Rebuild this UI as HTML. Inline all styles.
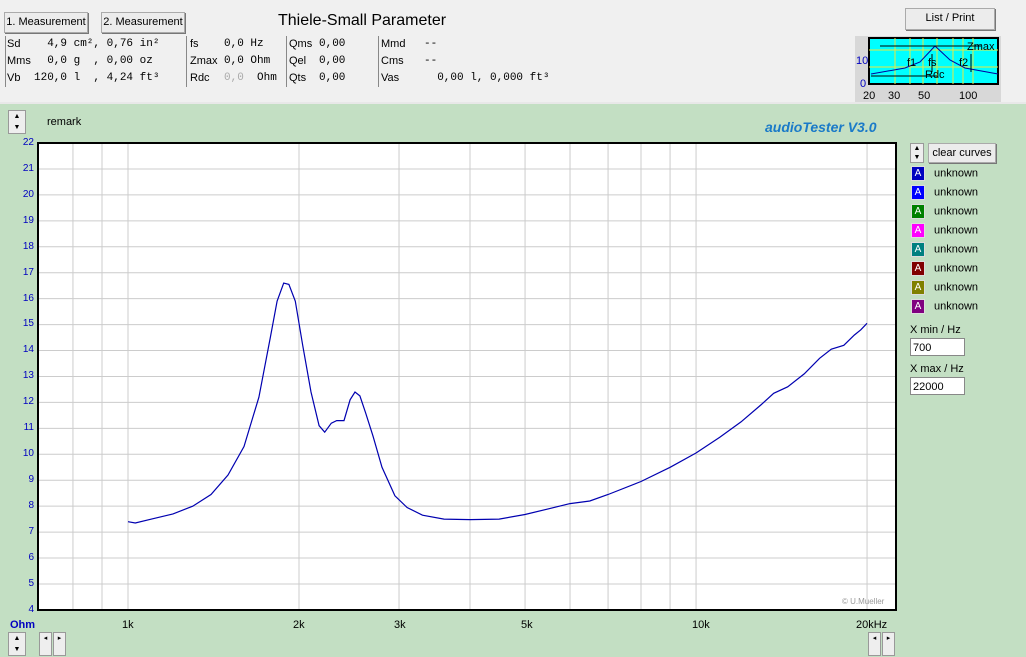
<!DOCTYPE html>
<html><head><style>
body{margin:0;width:1026px;height:657px;overflow:hidden;background:#c3dfc3;font-family:"Liberation Sans",sans-serif;position:relative}
.a{position:absolute}
.top{left:0;top:0;width:1026px;height:102px;background:#f0f0f0;border-bottom:2px solid #e8e8e8}
.btn{position:absolute;background:#ececec;border:1px solid #aaa;box-shadow:1px 1px 0 #777;font-size:11px;text-align:center;line-height:19px}
.m{font-family:"Liberation Mono",monospace;font-size:11px}
.s{font-size:11px}
.sp{position:absolute;width:16px;height:22px;background:#eee;border:1px solid #999;font-size:7px;text-align:center;line-height:11px}
.lg{position:absolute;left:911px;font-size:11px}
.lg span{display:inline-block;width:12px;height:13px;color:#fff;text-align:center;font-size:10px;line-height:13px;margin-right:9px;vertical-align:middle;border:1px solid #ddd}
.yl{position:absolute;left:0;width:34px;text-align:right;font-size:10px;color:#0000c0}
.xl{position:absolute;top:619px;font-size:11px;color:#000}
.inp{position:absolute;left:910px;width:55px;height:18px;background:#fff;border:1px solid #888;font-size:11px;line-height:18px;padding-left:2px;box-sizing:border-box}
</style></head><body>
<div class="a top"></div>
<div class="btn" style="left:4px;top:12px;width:82px;height:19px">1. Measurement</div>
<div class="btn" style="left:101px;top:12px;width:82px;height:19px">2. Measurement</div>
<div class="a" style="left:278px;top:12px;font-size:16px">Thiele-Small Parameter</div>
<div class="a s" style="left:5px;top:36px;line-height:17px;border-left:1px solid #888;padding-left:1px">Sd<br>Mms<br>Vb</div>
<div class="a m" style="left:34px;top:36px;line-height:17px;white-space:pre">  4,9 cm², 0,76 in²
  0,0 g  , 0,00 oz
120,0 l  , 4,24 ft³</div>
<div class="a s" style="left:186px;top:36px;line-height:17px;border-left:1px solid #888;padding-left:3px">fs<br>Zmax<br>Rdc</div>
<div class="a m" style="left:224px;top:36px;line-height:17px;white-space:pre">0,0 Hz
0,0 Ohm
<span style="color:#aaa">0,0</span>  Ohm</div>
<div class="a s" style="left:286px;top:36px;line-height:17px;border-left:1px solid #888;padding-left:2px">Qms<br>Qel<br>Qts</div>
<div class="a m" style="left:319px;top:36px;line-height:17px;white-space:pre">0,00
0,00
0,00</div>
<div class="a s" style="left:378px;top:36px;line-height:17px;border-left:1px solid #888;padding-left:2px">Mmd<br>Cms<br>Vas</div>
<div class="a m" style="left:424px;top:36px;line-height:17px;white-space:pre">--
--
  0,00 l, 0,000 ft³</div>
<div class="btn" style="left:905px;top:8px;width:88px;height:20px">List / Print</div>
<svg class="a" style="left:855px;top:36px" width="146" height="66">
<rect width="146" height="66" fill="#d8d8d8"/>
<rect x="14" y="2" width="129" height="46" fill="#00ffff" stroke="#000" stroke-width="2"/>
<g stroke="#e8e840" stroke-width="1"><line x1="14" y1="14" x2="143" y2="14"/><line x1="14" y1="31" x2="143" y2="31"/><line x1="40" y1="2" x2="40" y2="48"/><line x1="55" y1="2" x2="55" y2="48"/><line x1="68" y1="2" x2="68" y2="48"/><line x1="82" y1="2" x2="82" y2="48"/><line x1="98" y1="2" x2="98" y2="48"/><line x1="108" y1="2" x2="108" y2="48"/><line x1="118" y1="2" x2="118" y2="48"/></g>
<polyline points="16,38 50,32 65,26 80,10 95,24 110,32 143,38" fill="none" stroke="#0000a0"/>
<line x1="25" y1="10" x2="126" y2="10" stroke="#000"/><line x1="16" y1="40" x2="82" y2="40" stroke="#000"/>
<line x1="77" y1="18" x2="77" y2="36" stroke="#000"/><line x1="116" y1="18" x2="116" y2="36" stroke="#000"/>
<g font-size="11" font-family="Liberation Sans"><text x="112" y="14">Zmax</text><text x="52" y="30">f1</text><text x="73" y="30">fs</text><text x="104" y="30">f2</text><text x="70" y="42">Rdc</text>
<text x="1" y="28" fill="#0000c0">10</text><text x="5" y="51" fill="#0000c0">0</text>
<text x="8" y="63">20</text><text x="33" y="63">30</text><text x="63" y="63">50</text><text x="104" y="63">100</text></g>
</svg>
<div class="sp" style="left:8px;top:110px">▲<br>▼</div>
<div class="a s" style="left:47px;top:116px">remark</div>
<div class="a" style="left:765px;top:119px;font-size:14px;font-weight:bold;font-style:italic;color:#1a7ac8">audioTester  V3.0</div>
<svg class="a" style="left:0;top:0" width="1026" height="657" id="g"></svg>
<div class="a" style="left:842px;top:597px;font-size:8px;color:#999">© U.Mueller</div>
<div class="yl" style="top:137px">22</div><div class="yl" style="top:163px">21</div><div class="yl" style="top:189px">20</div><div class="yl" style="top:215px">19</div><div class="yl" style="top:241px">18</div><div class="yl" style="top:267px">17</div><div class="yl" style="top:293px">16</div><div class="yl" style="top:318px">15</div><div class="yl" style="top:344px">14</div><div class="yl" style="top:370px">13</div><div class="yl" style="top:396px">12</div><div class="yl" style="top:422px">11</div><div class="yl" style="top:448px">10</div><div class="yl" style="top:474px">9</div><div class="yl" style="top:500px">8</div><div class="yl" style="top:526px">7</div><div class="yl" style="top:552px">6</div><div class="yl" style="top:578px">5</div><div class="yl" style="top:604px">4</div>
<div class="a" style="left:10px;top:619px;font-size:11px;font-weight:bold;color:#0000c0">Ohm</div>
<div class="xl" style="left:122px">1k</div><div class="xl" style="left:293px">2k</div><div class="xl" style="left:394px">3k</div><div class="xl" style="left:521px">5k</div><div class="xl" style="left:692px">10k</div><div class="xl" style="left:856px">20kHz</div>
<div class="sp" style="left:8px;top:632px">▲<br>▼</div>
<div class="sp" style="left:39px;top:632px;width:11px">◂</div><div class="sp" style="left:53px;top:632px;width:11px">▸</div>
<div class="sp" style="left:868px;top:632px;width:11px">◂</div><div class="sp" style="left:882px;top:632px;width:11px">▸</div>
<div class="sp" style="left:910px;top:143px;width:12px;height:18px;line-height:9px">▲<br>▼</div>
<div class="btn" style="left:928px;top:143px;width:66px;height:18px;line-height:18px;font-size:11px">clear curves</div>
<div class="lg" style="top:166px"><span style="background:#0000c0">A</span>unknown</div>
<div class="lg" style="top:185px"><span style="background:#0000ff">A</span>unknown</div>
<div class="lg" style="top:204px"><span style="background:#008000">A</span>unknown</div>
<div class="lg" style="top:223px"><span style="background:#ff00ff">A</span>unknown</div>
<div class="lg" style="top:242px"><span style="background:#008080">A</span>unknown</div>
<div class="lg" style="top:261px"><span style="background:#800000">A</span>unknown</div>
<div class="lg" style="top:280px"><span style="background:#808000">A</span>unknown</div>
<div class="lg" style="top:299px"><span style="background:#800080">A</span>unknown</div>
<div class="a s" style="left:910px;top:324px">X min / Hz</div>
<div class="inp" style="top:338px">700</div>
<div class="a s" style="left:910px;top:363px">X max / Hz</div>
<div class="inp" style="top:377px">22000</div>
<script>
var X=f=>128+171*Math.log2(f/1000), Y=v=>143+(22-v)*25.94;
var s='<rect x="38" y="143" width="858" height="467" fill="#fff" stroke="#000" stroke-width="2"/>';
[800,900,1000,2000,3000,4000,5000,6000,7000,8000,9000,10000,20000].forEach(f=>{var x=X(f);s+='<line x1="'+x+'" y1="144" x2="'+x+'" y2="609" stroke="#ccc"/>'});
for(var v=5;v<22;v++)s+='<line x1="39" y1="'+Y(v)+'" x2="895" y2="'+Y(v)+'" stroke="#ccc"/>';
var d=[[1000,7.4],[1030,7.35],[1100,7.5],[1200,7.7],[1300,8],[1400,8.45],[1500,9.2],[1600,10.3],[1700,12.2],[1780,14.5],[1830,15.9],[1880,16.6],[1920,16.55],[1970,15.9],[2030,14.2],[2100,12.4],[2170,11.1],[2220,10.85],[2280,11.2],[2330,11.3],[2400,11.3],[2460,12.1],[2510,12.4],[2560,12.25],[2620,11.6],[2700,10.7],[2800,9.5],[2950,8.4],[3100,7.95],[3300,7.65],[3600,7.5],[4000,7.48],[4500,7.5],[5000,7.68],[5500,7.9],[6000,8.1],[6500,8.2],[7000,8.45],[8000,8.95],[9000,9.5],[10000,10.05],[11000,10.65],[12000,11.25],[13000,11.9],[13700,12.35],[14500,12.6],[15500,13.1],[16500,13.7],[17300,14.05],[18200,14.2],[19000,14.6],[19500,14.8],[20000,15.05]];
s+='<polyline fill="none" stroke="#0000b0" stroke-width="1.2" points="'+d.map(p=>X(p[0]).toFixed(1)+','+Y(p[1]).toFixed(1)).join(' ')+'"/>';
document.getElementById('g').innerHTML=s;
</script>
</body></html>
